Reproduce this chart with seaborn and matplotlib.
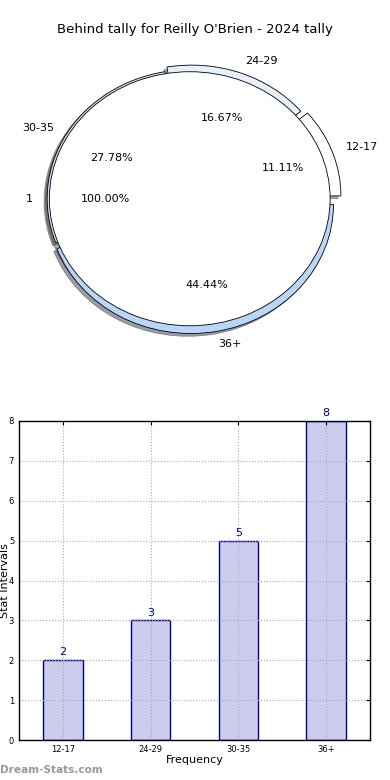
import matplotlib
matplotlib.use("Agg")
import matplotlib.pyplot as plt
import seaborn as sns
import pandas as pd

# data
intervals = ["12-17", "24-29", "30-35", "36+"]
counts = [2, 3, 5, 8]
wedge_colors = ["#ffffff", "#e8f0fb", "#cfe0f5", "#b9d6f7"]
explode = [0.062, 0.037, 0.0, 0.044]
inner_labels = ["1"]
inner_values = [1]

title = "Behind tally for Reilly O'Brien - 2024 tally"

sns.set_style("white")
plt.rcParams['font.family'] = ['DejaVu Sans']
plt.rcParams['text.color'] = 'black'
plt.rcParams['axes.labelcolor'] = 'black'
plt.rcParams['xtick.color'] = 'black'
plt.rcParams['ytick.color'] = 'black'

fig = plt.figure(figsize=(3.9, 7.8), dpi=100)

# --- pie (top) ---
ax1 = fig.add_axes([6 / 390, 415 / 780, 367.5 / 390, 332.5 / 780])
ax1.pie(counts, labels=intervals, colors=wedge_colors, explode=explode,
        startangle=0, radius=0.97, labeldistance=1.1, pctdistance=0.63,
        autopct="%.2f%%", shadow={"ox": -0.015, "oy": -0.015},
        wedgeprops=dict(edgecolor="black", linewidth=0.6),
        textprops=dict(fontsize=8))
ax1.pie(inner_values, labels=inner_labels, colors=["white"],
        startangle=0, radius=0.955, labeldistance=1.12, pctdistance=0.6,
        autopct="%.2f%%", shadow={"ox": -0.02, "oy": -0.015},
        wedgeprops=dict(edgecolor="black", linewidth=0.6),
        textprops=dict(fontsize=8))
ax1.set_aspect("auto")
ax1.set_xlim(-1.25, 1.25)
ax1.set_ylim(-1.25, 1.25)
ax1.axis("off")
fig.text(0.5, 1 - 30 / 780, title, ha="center", va="center", fontsize=9.5)

# --- bar chart (bottom) ---
df = pd.DataFrame({"interval": intervals, "count": counts})
ax2 = fig.add_axes([19 / 390, 40 / 780, 351 / 390, 319 / 780])
sns.barplot(data=df, x="interval", y="count", ax=ax2, color="#ccccee",
            saturation=1, width=0.45, edgecolor="#00008b", linewidth=1)
ax2.bar_label(ax2.containers[0], color="#00008b", fontsize=8, padding=2)
ax2.set_xlim(-0.5, 3.5)
ax2.set_ylim(0, 8)
ax2.set_yticks(range(0, 9))
# grid drawn over the bars, like the original
ax2.set_axisbelow(False)
ax2.grid(True, linestyle=":", color="#aaaaaa", linewidth=0.8)
ax2.tick_params(axis="both", labelsize=6, direction="in", length=3,
                right=True, top=True)
for s in ax2.spines.values():
    s.set_color("black")
    s.set_linewidth(1)
    s.set_zorder(4)
ax2.set_xlabel("Frequency", fontsize=8, labelpad=1)
ax2.set_ylabel("Stat Intervals", fontsize=8)
ax2.yaxis.set_label_coords(-0.026, 0.5)

fig.text(0.0, 1 - 770 / 780, "Dream-Stats.com", color="#999999",
         fontsize=7.6, fontweight="bold", ha="left", va="center")

fig.savefig("out.png", dpi=100)
